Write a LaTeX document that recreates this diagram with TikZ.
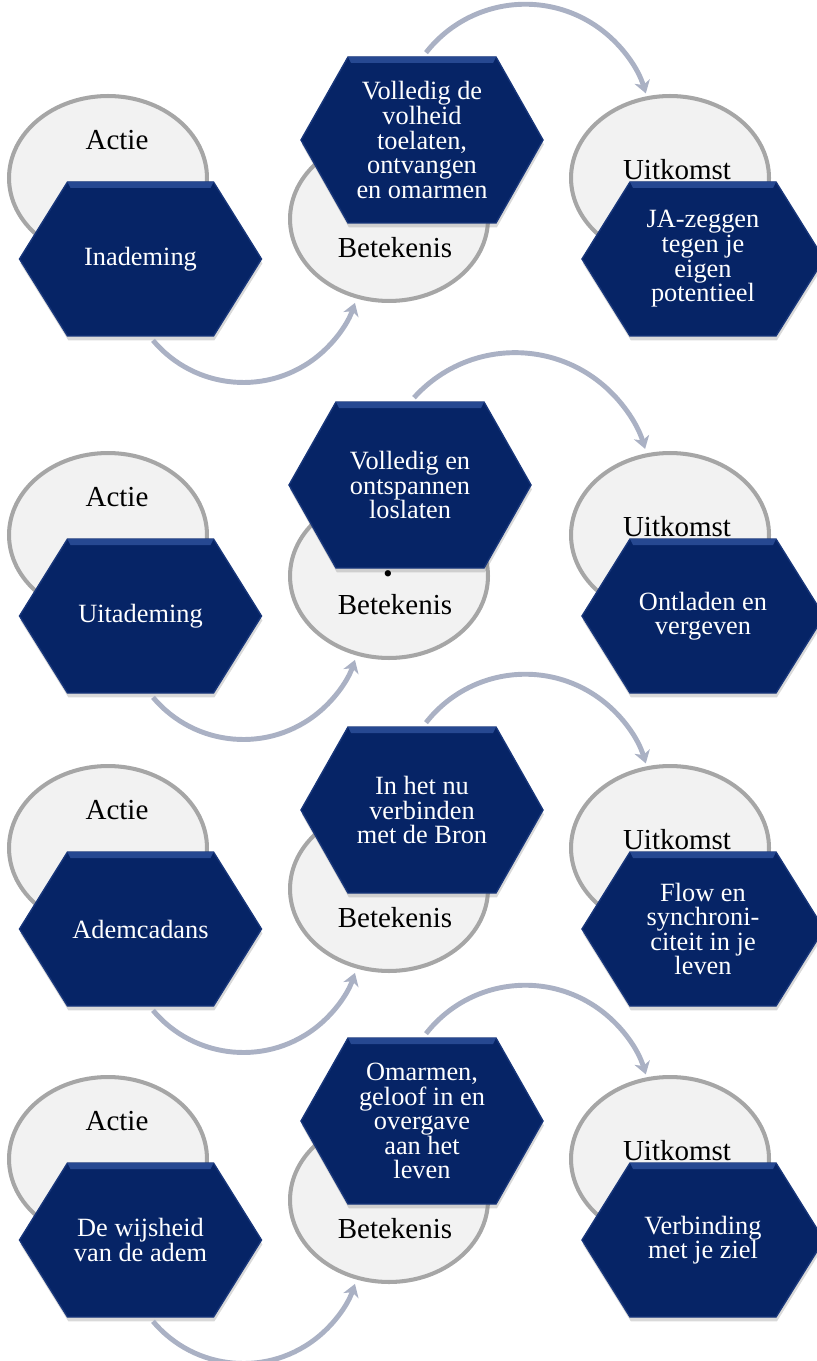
\documentclass[tikz,border=0pt]{standalone}
\usepackage{fontspec}
\setmainfont{Liberation Serif}
\usetikzlibrary{shapes.geometric,arrows.meta,shadows}

\definecolor{hexblue}{RGB}{6,36,102}
\definecolor{hexrim}{RGB}{24,54,122}
\definecolor{hexbevel}{RGB}{38,72,145}
\definecolor{ovalfill}{RGB}{242,242,242}
\definecolor{ovalline}{RGB}{166,166,166}
\definecolor{arcgray}{RGB}{170,177,196}

\tikzset{
  oval/.style={ellipse, fill=ovalfill, draw=ovalline, line width=2.3pt,
    minimum width=3.96cm, minimum height=3.28cm},
  tag/.style={font=\fontsize{16.5}{18}\selectfont, inner sep=0pt},
  hexshape/.style={fill=hexblue, draw=hexrim, line width=0.8pt,
    drop shadow={shadow xshift=0.5pt, shadow yshift=-2.5pt, opacity=0.3}},
  pics/hexbg/.style args={#1/#2/#3}{code={
    \path[hexshape] (-#1,0) -- (-#1+#3,#2) -- (#1-#3,#2) -- (#1,0)
      -- (#1-#3,-#2) -- (-#1+#3,-#2) -- cycle;
    \fill[hexbevel] (-#1+#3,#2) -- (#1-#3,#2) -- (#1-#3-3,#2-6)
      -- (-#1+#3+3,#2-6) -- cycle;}},
  hextxt/.style={rectangle, text=white, align=center, inner sep=0pt,
    font=\fontsize{15}{14}\selectfont, minimum width=4.84cm, minimum height=3.08cm},
  midtxt/.style={hextxt, minimum height=3.32cm},
  flow/.style={draw=arcgray, line width=2.8pt,
    -{Stealth[length=7pt,width=9pt,inset=2pt]}}
}

\begin{document}
\begin{tikzpicture}[x=0.02cm,y=0.02cm]
  \useasboundingbox (0,0) rectangle (817,-1361);
  \foreach \r/\dy/\mx/\my/\tr/\ts/\act/\mean/\res in {
    1/0/422/140/126/142/Inademing/{Volledig de\\volheid\\toelaten,\\ontvangen\\en omarmen}/{JA-zeggen\\tegen je\\eigen\\potentieel},
    2/357/410/485/136/138/Uitademing/{Volledig en\\ontspannen\\loslaten}/{Ontladen en\\vergeven},
    3/670/422/810/126/142/Ademcadans/{In het nu\\verbinden\\met de Bron}/{Flow en\\synchroni-\\citeit in je\\leven},
    4/981/422/1121/126/142/{De wijsheid\\van de adem}/{Omarmen,\\geloof in en\\overgave\\aan het\\leven}/{Verbinding\\met je ziel}}
  {
    \node[oval] (act\r) at (108,-178-\dy) {};
    \node[tag] (actlbl\r) at (117,-140-\dy) {Actie};
    \pic at (140.5,-259-\dy) {hexbg={121/77/48}};
    \node[hextxt] (a\r) at (140.5,-259-\dy) {\act};
    \node[oval] (bet\r) at (389,-219-\dy) {};
    \node[tag] (betlbl\r) at (395,-248-\dy) {Betekenis};
    \pic at (\mx,-\my) {hexbg={121/83/47}};
    \node[midtxt] (m\r) at (\mx,-\my) {\mean};
    \node[oval] (uit\r) at (670,-178-\dy) {};
    \node[tag] (uitlbl\r) at (677,-170-\dy) {Uitkomst};
    \pic at (703,-259-\dy) {hexbg={121/77/48}};
    \node[hextxt] (o\r) at (703,-259-\dy) {\res};
    \draw[flow] ([shift={(12.5,-4)}]a\r.south) arc[start angle=220, end angle=341, radius=118];
    \draw[flow] ([shift={(4,4)}]m\r.north) arc[start angle=\ts, end angle=17, radius=\tr];
  }
  \node[inner sep=0pt] (dot) at (388,-577) {\fontsize{15}{14}\selectfont\textbullet};
\end{tikzpicture}
\end{document}
